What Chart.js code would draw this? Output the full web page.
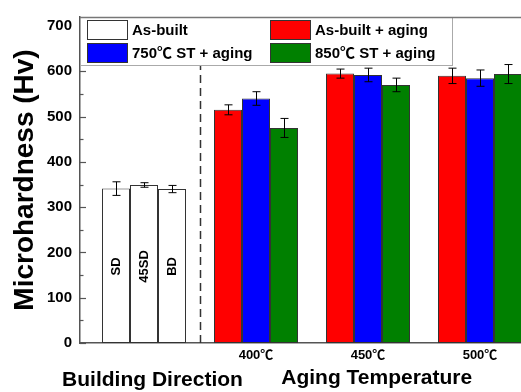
<!DOCTYPE html>
<html>
<head>
<meta charset="utf-8">
<script src="https://cdn.jsdelivr.net/npm/chart.js@4/dist/chart.umd.min.js"></script>
<style>
  html, body { margin: 0; padding: 0; background: #fff; overflow: hidden; }
  #wrap { position: relative; width: 521px; height: 392px; }
</style>
</head>
<body>
<div id="wrap"><canvas id="c"></canvas></div>
<script>
// Building directions (as-built specimens)
const directions = ['SD', '45SD', 'BD'];
const asBuilt = [341, 349, 340];
const asBuiltErr = [15, 5, 8];

// Aging temperatures
const agingTemps = ['400℃', '450℃', '500℃'];
const asBuiltAging = [515, 595, 590];
const asBuiltAgingErr = [11, 10, 17];
const st750Aging = [540, 592, 585];
const st750AgingErr = [15, 15, 18];
const st850Aging = [475, 570, 594];
const st850AgingErr = [21, 15, 21];

const yTicks = [0, 100, 200, 300, 400, 500, 600, 700];

const FONT = "'Liberation Sans', Arial, 'Noto Sans CJK SC', sans-serif";
const RED = '#ff0000', BLUE = '#0000ff', GREEN = '#008000';

const agingSeries = [asBuiltAging, st750Aging, st850Aging];
const agingErrs = [asBuiltAgingErr, st750AgingErr, st850AgingErr];
const seriesColors = [RED, BLUE, GREEN];

// Slot k of each group: building-direction bar at x=0, aging bars at x=1..3
const datasets = [0, 1, 2].map(k => ({
  label: directions[k],
  data: [{ x: 0, y: asBuilt[k] }].concat(agingSeries[k].map((v, i) => ({ x: i + 1, y: v }))),
  errors: [asBuiltErr[k]].concat(agingErrs[k]),
  backgroundColor: ['#ffffff', seriesColors[k], seriesColors[k], seriesColors[k]],
  borderColor: '#333333',
  borderWidth: 1,
  borderSkipped: false,
  categoryPercentage: 0.75,
  barPercentage: 1.0
}));

const legendItems = [
  { text: 'As-built', color: '#ffffff', col: 0, row: 0 },
  { text: '750℃ ST + aging', color: BLUE, col: 0, row: 1 },
  { text: 'As-built + aging', color: RED, col: 1, row: 0 },
  { text: '850℃ ST + aging', color: GREEN, col: 1, row: 1 }
];

const unitPx = 112;
const xMin = -64 / unitPx;
const xMax = xMin + 441 / unitPx;

const decor = {
  id: 'decor',
  afterDatasetsDraw(chart) {
    const ctx = chart.ctx;
    const { left, right, top, bottom } = chart.chartArea;
    const xs = chart.scales.x, ys = chart.scales.y;
    ctx.save();

    // error bars
    ctx.strokeStyle = '#000';
    ctx.lineWidth = 1;
    chart.data.datasets.forEach((ds, di) => {
      const meta = chart.getDatasetMeta(di);
      meta.data.forEach((bar, i) => {
        const v = ds.data[i].y, e = ds.errors[i];
        const x = Math.round(bar.x) + 0.5;
        const y1 = ys.getPixelForValue(v + e), y2 = ys.getPixelForValue(v - e);
        ctx.beginPath();
        ctx.moveTo(x, y1); ctx.lineTo(x, y2);
        ctx.moveTo(x - 4, y1); ctx.lineTo(x + 4, y1);
        ctx.moveTo(x - 4, y2); ctx.lineTo(x + 4, y2);
        ctx.stroke();
      });
    });

    // inward y ticks, major and minor
    ctx.strokeStyle = '#555';
    ctx.lineWidth = 1.2;
    for (let v = 0; v <= 700; v += 50) {
      const y = Math.round(ys.getPixelForValue(v)) + 0.5;
      const len = v % 100 === 0 ? 6 : 3.5;
      ctx.beginPath(); ctx.moveTo(left, y); ctx.lineTo(left + len, y); ctx.stroke();
    }

    // dashed separator between the two groups
    const sx = Math.round(xs.getPixelForValue(0.5)) + 0.5;
    ctx.strokeStyle = '#333';
    ctx.lineWidth = 1.5;
    ctx.setLineDash([8, 5]);
    ctx.beginPath(); ctx.moveTo(sx, bottom); ctx.lineTo(sx, top); ctx.stroke();
    ctx.setLineDash([]);

    // vertical labels inside the as-built bars
    ctx.fillStyle = '#000';
    ctx.font = 'bold 13px ' + FONT;
    ctx.textAlign = 'center';
    ctx.textBaseline = 'middle';
    chart.data.datasets.forEach((ds, di) => {
      const bar = chart.getDatasetMeta(di).data[0];
      ctx.save();
      ctx.translate(bar.x, ys.getPixelForValue(169));
      ctx.rotate(-Math.PI / 2);
      ctx.fillText(directions[di], 0, 0);
      ctx.restore();
    });

    // legend box
    const lx = left, ly = top, lw = 372, lh = 48;
    ctx.fillStyle = '#fff';
    ctx.fillRect(lx, ly, lw, lh);
    ctx.strokeStyle = '#aaa';
    ctx.lineWidth = 1;
    ctx.strokeRect(lx + 0.5, ly + 0.5, lw, lh);
    ctx.font = 'bold 15px ' + FONT;
    ctx.textAlign = 'left';
    ctx.textBaseline = 'middle';
    legendItems.forEach(it => {
      const bx = lx + 7 + it.col * 183;
      const by = ly + 3 + it.row * 23;
      ctx.fillStyle = it.color;
      ctx.fillRect(bx, by, 41, 20);
      ctx.strokeStyle = '#333';
      ctx.strokeRect(bx + 0.5, by + 0.5, 40, 19);
      ctx.fillStyle = '#000';
      ctx.fillText(it.text, bx + 45, by + 11);
    });

    // top frame line
    ctx.strokeStyle = '#777';
    ctx.lineWidth = 1.5;
    ctx.beginPath(); ctx.moveTo(left, top + 0.5); ctx.lineTo(right, top + 0.5); ctx.stroke();

    // axis titles
    ctx.fillStyle = '#000';
    ctx.font = 'bold 28px ' + FONT;
    ctx.textAlign = 'center';
    ctx.textBaseline = 'middle';
    ctx.save();
    ctx.translate(25, (top + bottom) / 2);
    ctx.rotate(-Math.PI / 2);
    ctx.fillText('Microhardness (Hv)', 0, 0);
    ctx.restore();

    ctx.font = 'bold 21px ' + FONT;
    ctx.textBaseline = 'alphabetic';
    ctx.fillText('Building Direction', xs.getPixelForValue(0.076), 386);
    ctx.fillText('Aging Temperature', xs.getPixelForValue(2.078), 384);

    ctx.restore();
  }
};

new Chart(document.getElementById('c'), {
  type: 'bar',
  data: { datasets },
  options: {
    responsive: true,
    maintainAspectRatio: false,
    animation: false,
    layout: { padding: { top: 11, right: 0, left: 0, bottom: 0 } },
    plugins: { legend: { display: false }, tooltip: { enabled: false } },
    scales: {
      x: {
        type: 'linear',
        offset: false,
        min: xMin,
        max: xMax,
        afterBuildTicks: s => { s.ticks = agingTemps.map((t, i) => ({ value: i + 1 })); },
        afterFit: s => { s.height = 49; },
        ticks: {
          callback: v => agingTemps[Math.round(v) - 1] || '',
          font: { family: FONT, size: 13, weight: 'bold' },
          color: '#000',
          padding: 5,
          maxRotation: 0
        },
        grid: { display: false, drawTicks: false, offset: false },
        border: { display: true, color: '#555', width: 1.5 }
      },
      y: {
        min: 0,
        max: 720,
        afterBuildTicks: s => { s.ticks = yTicks.map(v => ({ value: v })); },
        afterFit: s => { s.width = 80; },
        ticks: {
          font: { family: FONT, size: 15, weight: 'bold' },
          color: '#000',
          padding: 8
        },
        grid: { display: false, drawTicks: false },
        border: { display: true, color: '#555', width: 1.5 }
      }
    }
  },
  plugins: [decor]
});
</script>
</body>
</html>
